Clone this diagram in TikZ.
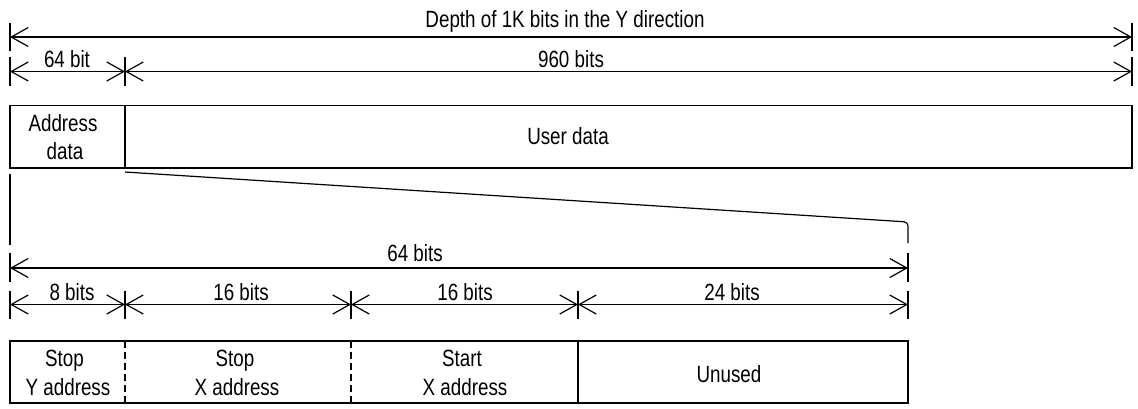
\documentclass[tikz,border=0pt]{standalone}
\usepackage{fontspec}
\setmainfont{Liberation Sans}[FakeStretch=0.8]
\usetikzlibrary{arrows.meta}
\begin{document}
\begin{tikzpicture}[x=1pt,y=-1pt,line width=1.2pt,
  every node/.style={font=\fontsize{23.5}{28}\selectfont},
  dimline/.style={{Straight Barb[length=17pt,width=19pt]}-{Straight Barb[length=17pt,width=19pt]}},
  lbl/.style={anchor=base,inner sep=0pt,outer sep=0pt},
  boxline/.style={line width=1.4pt},
  divdash/.style={line width=1.2pt,dash pattern=on 7pt off 4pt},
  tickline/.style={line width=1.2pt}]
\useasboundingbox (0,0) rectangle (1138,408);

% --- top dimension lines
\coordinate (A0) at (10,37);
\coordinate (A1) at (1132,37);
\coordinate (B0) at (10,71.5);
\coordinate (B1) at (125,71.5);
\coordinate (B2) at (1132,71.5);
\foreach \p in {A0,A1} \draw[tickline] (\p) ++(0,-14) -- ++(0,28);
\foreach \p in {B0,B1,B2} \draw[tickline] (\p) ++(0,-14.5) -- ++(0,28.5);
\draw[dimline] (A0) -- (A1);
\draw[dimline] (B0) -- (B1);
\draw[dimline] (B1) -- (B2);
\node[lbl] (title) at (565,27) {Depth of 1K bits in the Y direction};
\node[lbl] (l64a) at (67,67.5) {64 bit};
\node[lbl] (l960) at (571,67.5) {960 bits};

% --- top record
\coordinate (R0) at (10,105.5);
\coordinate (R1) at (1132,168);
\coordinate (Rd0) at (125,105.5);
\coordinate (Rd1) at (125,168);
\draw[boxline] (R0) rectangle (R1);
\draw[boxline] (Rd0) -- (Rd1);
\node[lbl] (addr1) at (63,131) {Address};
\node[lbl] (addr2) at (65,159) {data};
\node[lbl] (user) at (568,144) {User data};

% --- expansion lines
\coordinate (E0) at (10,174);
\coordinate (E1) at (10,245);
\coordinate (S0) at (125,172);
\coordinate (S1) at (908,222);
\coordinate (S2) at (908,243);
\draw (E0) -- (E1);
\draw[rounded corners=4pt] (S0) -- (S1) -- (S2);

% --- lower dimension lines
\coordinate (C0) at (10,268);
\coordinate (C1) at (908,268);
\foreach \p in {C0,C1} \draw[tickline] (\p) ++(0,-15) -- ++(0,29);
\draw[dimline] (C0) -- (C1);
\node[lbl] (l64) at (415,261) {64 bits};

\coordinate (D0) at (10,304.5);
\coordinate (D1) at (125,304.5);
\coordinate (D2) at (351,304.5);
\coordinate (D3) at (578,304.5);
\coordinate (D4) at (908,304.5);
\foreach \p in {D0,D1,D2,D3,D4} \draw[tickline] (\p) ++(0,-14) -- ++(0,28.5);
\draw[dimline] (D0) -- (D1);
\draw[dimline] (D1) -- (D2);
\draw[dimline] (D2) -- (D3);
\draw[dimline] (D3) -- (D4);
\node[lbl] (l8) at (72,300) {8 bits};
\node[lbl] (l16a) at (241,300) {16 bits};
\node[lbl] (l16b) at (465,300) {16 bits};
\node[lbl] (l24) at (732,300) {24 bits};

% --- bottom record
\coordinate (Q0) at (10,341);
\coordinate (Q1) at (908,403);
\draw[boxline] (Q0) rectangle (Q1);
\coordinate (Qa0) at (125,341); \coordinate (Qa1) at (125,403);
\coordinate (Qb0) at (351,341); \coordinate (Qb1) at (351,403);
\coordinate (Qc0) at (578,341); \coordinate (Qc1) at (578,403);
\draw[divdash] (Qa0) -- (Qa1);
\draw[divdash] (Qb0) -- (Qb1);
\draw[boxline] (Qc0) -- (Qc1);
\node[lbl] (sy1) at (64.5,366) {Stop};
\node[lbl] (sy2) at (68,395) {Y address};
\node[lbl] (sx1) at (235,366) {Stop};
\node[lbl] (sx2) at (237,395) {X address};
\node[lbl] (st1) at (462,366) {Start};
\node[lbl] (st2) at (465,395) {X address};
\node[lbl] (un) at (729,382) {Unused};
\end{tikzpicture}
\end{document}
